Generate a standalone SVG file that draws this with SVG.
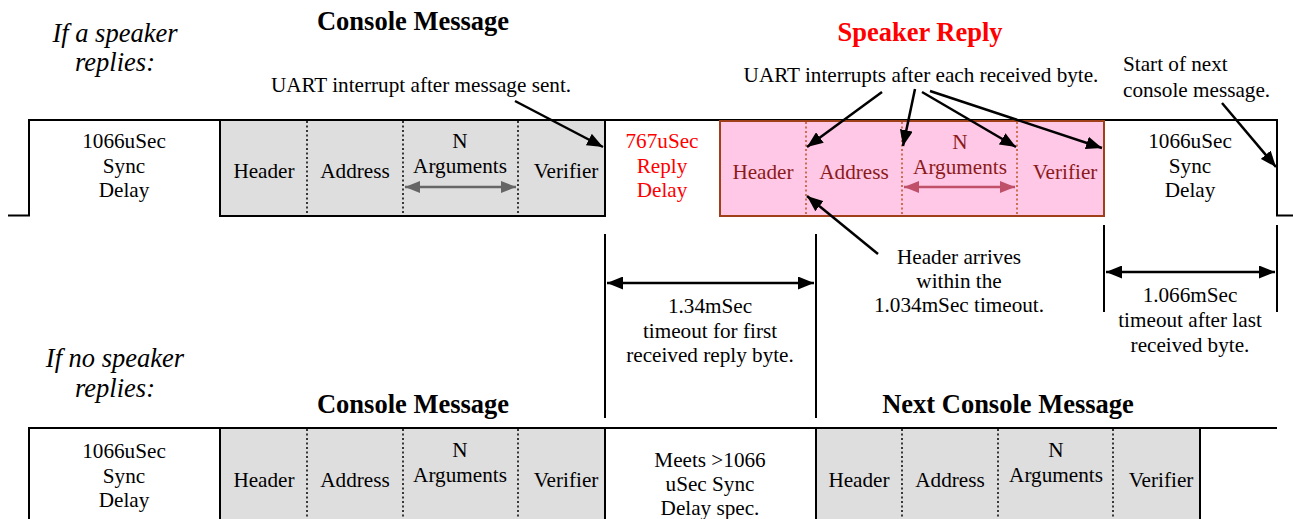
<svg xmlns="http://www.w3.org/2000/svg" width="1293" height="519" viewBox="0 0 1293 519">
  <style>
    text { font-family: "Liberation Serif", "Times New Roman", serif; font-size: 21.2px; fill: #000; text-anchor: middle; }
    .left { text-anchor: start; }
    .title { font-size: 26.5px; font-weight: bold; }
    .red { fill: #ff0000; }
    .redtitle { fill: #ff0000; font-size: 26.5px; font-weight: bold; }
    .maroon { fill: #8b1a1a; }
    .note { font-size: 26.5px; font-style: italic; }
    .wave { fill: none; stroke: #000; stroke-width: 2; }
    .gray { fill: #dedede; stroke: #000; stroke-width: 2; }
    .pink { fill: #ffc8e6; stroke: #a0401a; stroke-width: 2; }
    .white { fill: #fff; stroke: #000; stroke-width: 2; }
    .div { stroke: #000; stroke-width: 1.5; stroke-dasharray: 2 2.5; }
    .pdiv { stroke: #b8541e; stroke-width: 1.5; stroke-dasharray: 2 2.5; }
    .arr { stroke: #000; stroke-width: 2.5; fill: none; }
    .garr { stroke: #666; stroke-width: 2.5; fill: none; }
    .parr { stroke: #c0506a; stroke-width: 2.5; fill: none; }
    .vline { stroke: #000; stroke-width: 2; }
  </style>
  <defs>
    <marker id="ah" markerUnits="userSpaceOnUse" markerWidth="17" markerHeight="13" refX="16" refY="6.5" orient="auto-start-reverse">
      <path d="M0,0 L16,6.5 L0,13 Z" fill="#000"/>
    </marker>
    <marker id="ahg" markerUnits="userSpaceOnUse" markerWidth="16" markerHeight="12" refX="15" refY="6" orient="auto-start-reverse">
      <path d="M0,0 L15,6 L0,12 Z" fill="#666"/>
    </marker>
    <marker id="ahp" markerUnits="userSpaceOnUse" markerWidth="16" markerHeight="12" refX="15" refY="6" orient="auto-start-reverse">
      <path d="M0,0 L15,6 L0,12 Z" fill="#c0506a"/>
    </marker>
  </defs>

  <!-- side notes -->
  <g id="note-reply">
    <text class="note" x="115" y="42">If a speaker</text>
    <text class="note" x="115" y="71">replies:</text>
  </g>
  <g id="note-noreply">
    <text class="note" x="115" y="367">If no speaker</text>
    <text class="note" x="115" y="397">replies:</text>
  </g>

  <!-- upper timeline: console message followed by a speaker reply -->
  <g id="top-wave">
    <path class="wave" d="M8,215.5 H29 V120 H1277 V215.5 H1293"/>
  </g>
  <g id="top-sync">
    <text x="124" y="148">1066uSec</text>
    <text x="124" y="173">Sync</text>
    <text x="124" y="197">Delay</text>
  </g>
  <g id="top-console">
    <text class="title" x="413" y="30">Console Message</text>
    <rect class="gray" x="220" y="120" width="385" height="96"/>
    <line class="div" x1="307" y1="121" x2="307" y2="215"/>
    <line class="div" x1="403" y1="121" x2="403" y2="215"/>
    <line class="div" x1="518" y1="121" x2="518" y2="215"/>
    <text x="264" y="178">Header</text>
    <text x="355" y="178">Address</text>
    <text x="460" y="148">N</text>
    <text x="460" y="173">Arguments</text>
    <text x="566" y="178">Verifier</text>
    <line class="garr" x1="405" y1="187" x2="516" y2="187" marker-start="url(#ahg)" marker-end="url(#ahg)"/>
  </g>
  <g id="top-reply-delay">
    <text class="red" x="662" y="148">767uSec</text>
    <text class="red" x="662" y="173">Reply</text>
    <text class="red" x="662" y="197">Delay</text>
  </g>
  <g id="speaker-reply">
    <text class="redtitle" x="920" y="41">Speaker Reply</text>
    <rect class="pink" x="720" y="121" width="384" height="95"/>
    <line class="pdiv" x1="806" y1="122" x2="806" y2="215"/>
    <line class="pdiv" x1="902" y1="122" x2="902" y2="215"/>
    <line class="pdiv" x1="1017" y1="122" x2="1017" y2="215"/>
    <text class="maroon" x="763" y="179">Header</text>
    <text class="maroon" x="854" y="179">Address</text>
    <text class="maroon" x="960" y="149">N</text>
    <text class="maroon" x="960" y="174">Arguments</text>
    <text class="maroon" x="1065" y="179">Verifier</text>
    <line class="parr" x1="904" y1="187" x2="1015" y2="187" marker-start="url(#ahp)" marker-end="url(#ahp)"/>
  </g>
  <g id="top-next-sync">
    <text x="1190" y="148">1066uSec</text>
    <text x="1190" y="173">Sync</text>
    <text x="1190" y="197">Delay</text>
  </g>

  <!-- annotations -->
  <g id="label-uart-sent">
    <text x="421" y="92">UART interrupt after message sent.</text>
  </g>
  <g id="label-uart-bytes">
    <text x="921" y="82">UART interrupts after each received byte.</text>
  </g>
  <g id="label-next-start">
    <text class="left" x="1123" y="71">Start of next</text>
    <text class="left" x="1123" y="97">console message.</text>
  </g>
  <g id="label-header-arrives">
    <text x="959" y="264">Header arrives</text>
    <text x="959" y="288">within the</text>
    <text x="959" y="312">1.034mSec timeout.</text>
  </g>
  <g id="label-first-timeout">
    <text x="710" y="313">1.34mSec</text>
    <text x="710" y="338">timeout for first</text>
    <text x="710" y="362">received reply byte.</text>
  </g>
  <g id="label-last-timeout">
    <text x="1190" y="302">1.066mSec</text>
    <text x="1190" y="327">timeout after last</text>
    <text x="1190" y="352">received byte.</text>
  </g>

  <!-- lower timeline: no reply, next console message -->
  <g id="bottom-wave">
    <path class="wave" d="M29,519 V428 H1277"/>
  </g>
  <g id="bottom-sync">
    <text x="124" y="458">1066uSec</text>
    <text x="124" y="483">Sync</text>
    <text x="124" y="507">Delay</text>
  </g>
  <g id="bottom-console">
    <text class="title" x="413" y="413">Console Message</text>
    <rect class="gray" x="220" y="428" width="385" height="95"/>
    <line class="div" x1="307" y1="429" x2="307" y2="519"/>
    <line class="div" x1="403" y1="429" x2="403" y2="519"/>
    <line class="div" x1="518" y1="429" x2="518" y2="519"/>
    <text x="264" y="487">Header</text>
    <text x="355" y="487">Address</text>
    <text x="460" y="457">N</text>
    <text x="460" y="482">Arguments</text>
    <text x="566" y="487">Verifier</text>
  </g>
  <g id="bottom-gap">
    <rect class="white" x="605" y="428" width="211" height="95"/>
    <text x="710" y="467">Meets &gt;1066</text>
    <text x="710" y="491">uSec Sync</text>
    <text x="710" y="515">Delay spec.</text>
  </g>
  <g id="next-console">
    <text class="title" x="1008" y="413">Next Console Message</text>
    <rect class="gray" x="816" y="428" width="384" height="95"/>
    <line class="div" x1="902" y1="429" x2="902" y2="519"/>
    <line class="div" x1="998" y1="429" x2="998" y2="519"/>
    <line class="div" x1="1113" y1="429" x2="1113" y2="519"/>
    <text x="859" y="487">Header</text>
    <text x="950" y="487">Address</text>
    <text x="1056" y="457">N</text>
    <text x="1056" y="482">Arguments</text>
    <text x="1161" y="487">Verifier</text>
  </g>

  <!-- connectors -->
  <g id="connectors">
    <line class="vline" x1="605" y1="234" x2="605" y2="418"/>
    <line class="vline" x1="816" y1="234" x2="816" y2="418"/>
    <line class="arr" x1="607" y1="283" x2="814" y2="283" marker-start="url(#ah)" marker-end="url(#ah)"/>
    <line class="vline" x1="1104" y1="225" x2="1104" y2="312"/>
    <line class="vline" x1="1277" y1="225" x2="1277" y2="312"/>
    <line class="arr" x1="1106" y1="272" x2="1275" y2="272" marker-start="url(#ah)" marker-end="url(#ah)"/>
    <line class="arr" x1="515" y1="101" x2="603" y2="147" marker-end="url(#ah)"/>
    <line class="arr" x1="882" y1="92" x2="807" y2="147" marker-end="url(#ah)"/>
    <line class="arr" x1="915" y1="89" x2="903" y2="146" marker-end="url(#ah)"/>
    <line class="arr" x1="922" y1="92" x2="1016" y2="147" marker-end="url(#ah)"/>
    <line class="arr" x1="930" y1="91" x2="1102" y2="148" marker-end="url(#ah)"/>
    <line class="arr" x1="1222" y1="103" x2="1276" y2="167" marker-end="url(#ah)"/>
    <line class="arr" x1="878" y1="254" x2="807" y2="196" marker-end="url(#ah)"/>
  </g>
</svg>
